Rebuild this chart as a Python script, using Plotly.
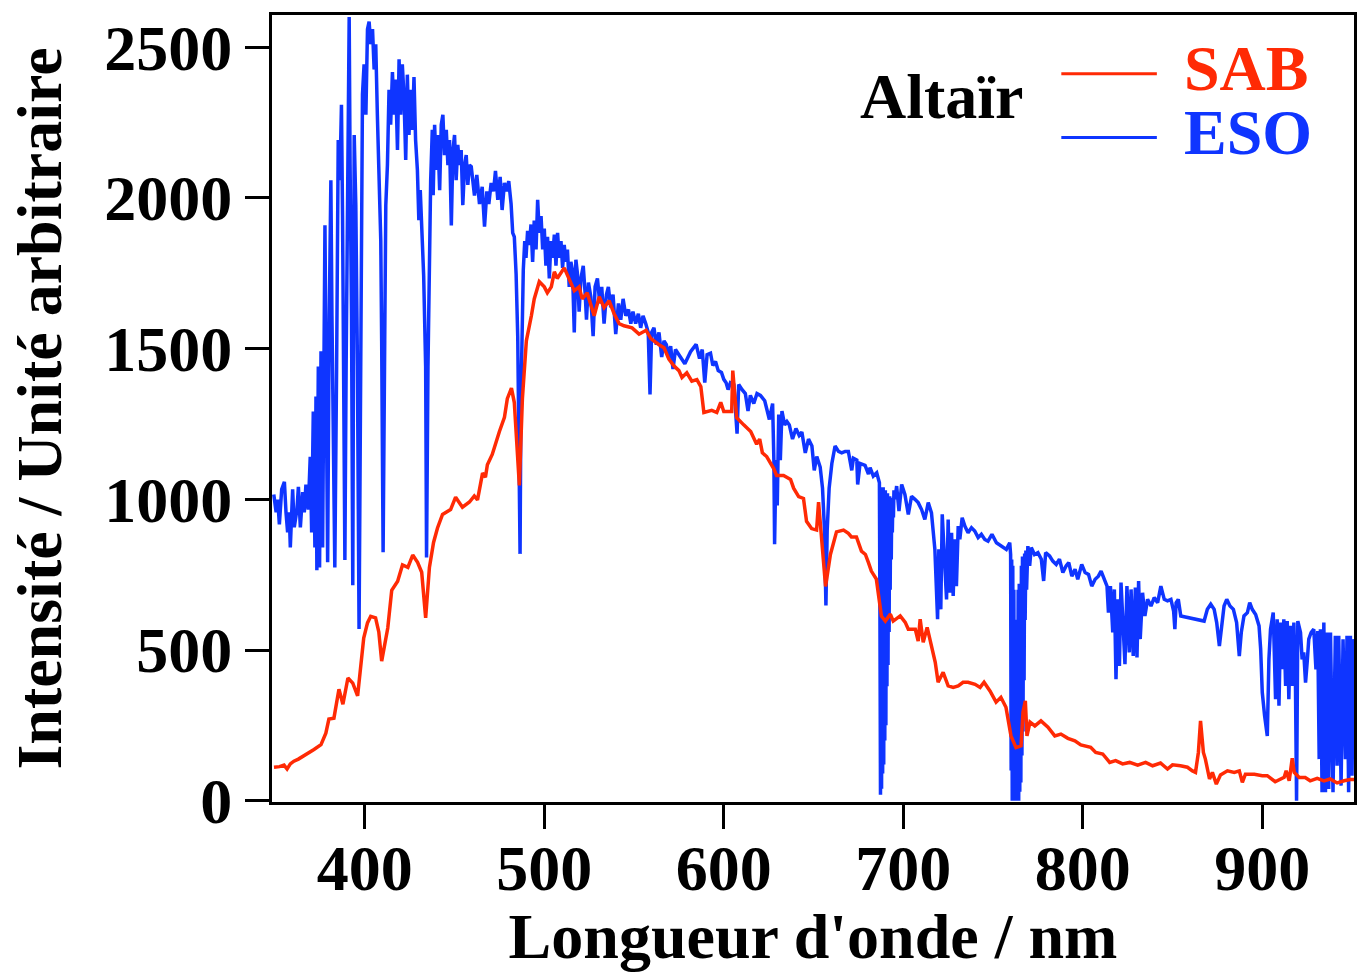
import plotly.graph_objects as go

# ---- Altaïr spectrum: SAB measurement (red) ----
sab_nm = [349.4, 352.5, 355.0, 356.7, 358.5, 360.5, 363.0, 366.0, 369.0, 371.7,
          375.6, 378.3, 380.0, 382.8, 385.6, 387.8, 390.6, 393.3, 396.0, 399.4,
          401.5, 403.3, 406.0, 407.8, 409.4, 411.0, 412.8, 415.0, 418.3, 421.0,
          424.0, 426.7, 429.4, 431.7, 433.9, 436.0, 438.3, 440.5, 443.3, 447.8,
          450.6, 454.4, 458.3, 461.0, 462.8, 465.6, 467.2, 468.3, 471.0, 475.0,
          477.8, 479.4, 481.7, 483.3, 484.7, 486.1, 487.8, 490.0, 492.8, 494.4,
          497.2, 500.0, 501.7, 503.9, 505.6, 507.2, 511.1, 513.9, 516.7, 519.4,
          521.1, 523.9, 527.8, 530.6, 533.3, 536.1, 538.9, 541.7, 544.4, 548.9,
          552.8, 556.7, 559.4, 563.9, 566.7, 569.4, 572.2, 575.0, 576.7, 579.4,
          582.2, 585.0, 587.2, 588.9, 593.3, 596.1, 598.3, 600.0, 604.4, 605.0,
          607.2, 611.1, 615.0, 618.3, 620.0, 621.5, 623.9, 627.8, 629.4, 633.3,
          637.2, 638.9, 641.7, 644.4, 646.1, 648.9, 651.7, 652.8, 654.4, 656.7,
          659.4, 662.8, 666.7, 669.4, 671.1, 673.9, 676.7, 678.9, 680.6, 682.2,
          685.0, 687.8, 690.0, 692.8, 694.4, 698.3, 701.1, 702.8, 706.7, 708.3,
          709.4, 711.1, 713.3, 715.6, 717.8, 719.4, 722.2, 725.0, 727.8, 730.6,
          733.3, 736.1, 740.0, 742.8, 745.0, 748.3, 751.7, 754.4, 757.2, 760.0,
          762.8, 765.6, 766.7, 768.0, 768.9, 770.6, 773.3, 776.7, 780.6, 784.4,
          787.8, 791.7, 795.6, 798.9, 804.4, 807.2, 811.1, 815.0, 818.3, 822.2,
          826.1, 830.6, 835.0, 838.9, 843.3, 847.2, 850.0, 854.4, 858.3, 861.1,
          862.8, 864.4, 865.6, 867.2, 868.3, 870.6, 872.2, 874.4, 876.7, 880.6,
          884.4, 887.2, 888.9, 890.6, 895.6, 900.0, 902.8, 904.4, 907.2, 912.2,
          913.3, 915.0, 916.7, 917.8, 920.6, 923.9, 926.7, 930.6, 934.4, 937.8,
          941.7, 945.6, 948.9, 951.7]
sab_val = [111, 113, 118, 105, 122, 131, 138, 148, 158, 170,
           186, 224, 271, 274, 370, 320, 407, 390, 348, 540,
           590, 612, 607, 560, 463, 520, 573, 698, 728, 782,
           774, 815, 791, 758, 607, 774, 857, 905, 950, 966,
           1007, 974, 991, 1011, 998, 1087, 1073, 1115, 1149, 1225,
           1272, 1334, 1369, 1321, 1200, 1046, 1334, 1526, 1609, 1665,
           1722, 1705, 1685, 1705, 1755, 1733, 1768, 1733, 1692, 1705,
           1665, 1685, 1609, 1672, 1636, 1659, 1616, 1583, 1576, 1569,
           1548, 1561, 1533, 1513, 1503, 1465, 1443, 1427, 1404, 1420,
           1392, 1397, 1374, 1288, 1295, 1288, 1322, 1291, 1291, 1427,
           1271, 1247, 1225, 1183, 1200, 1154, 1142, 1102, 1079, 1079,
           1066, 1037, 1009, 1003, 927, 903, 898, 991, 864, 711,
           817, 892, 898, 887, 875, 875, 828, 817, 790, 762,
           735, 613, 596, 619, 596, 613, 592, 569, 569, 530,
           602, 526, 575, 514, 459, 393, 426, 381, 376, 381,
           393, 393, 386, 376, 393, 364, 327, 343, 310, 215,
           176, 182, 294, 331, 215, 261, 248, 265, 244, 215,
           221, 207, 199, 185, 177, 160, 155, 127, 133, 122,
           127, 118, 127, 116, 125, 105, 119, 116, 111, 99,
           94, 160, 265, 160, 138, 72, 94, 55, 85, 99,
           94, 99, 61, 88, 88, 83, 83, 76, 63, 78,
           99, 66, 141, 94, 77, 77, 66, 74, 66, 72,
           59, 66, 70, 70]

# ---- Altaïr spectrum: ESO reference (blue) ----
eso_nm = [349.3, 350.6, 351.5, 352.4, 353.7, 355.2, 356.1, 357.0, 357.9, 358.5,
          359.8, 360.7, 362.2, 363.0, 364.1, 365.4, 366.3, 367.2, 368.5, 369.6,
          370.4, 371.3, 372.2, 372.8, 373.3, 374.1, 374.8, 375.6, 376.5, 377.1,
          377.8, 378.3, 378.9, 379.3, 380.2, 381.1, 381.7, 382.6, 383.3, 384.3,
          385.2, 386.1, 387.0, 387.6, 388.1, 388.9, 389.6, 390.4, 391.3, 391.8,
          392.6, 393.3, 394.1, 395.0, 395.9, 396.8, 397.8, 398.7, 399.6, 400.6,
          401.5, 402.4, 403.3, 404.3, 405.2, 406.1, 407.0, 407.9, 408.9, 409.4,
          410.2, 411.1, 411.7, 412.6, 413.5, 414.4, 415.4, 416.3, 417.2, 418.2,
          419.1, 420.0, 420.9, 421.8, 422.8, 423.7, 424.6, 425.6, 426.5, 427.4,
          428.3, 429.3, 430.1, 430.9, 431.8, 432.8, 433.9, 434.4, 435.2, 435.9,
          436.7, 437.6, 438.1, 438.9, 439.8, 440.7, 441.7, 442.6, 443.5, 444.4,
          445.4, 446.3, 447.2, 448.2, 449.1, 450.0, 450.9, 451.8, 452.8, 453.7,
          454.6, 455.6, 456.5, 457.4, 458.3, 459.3, 461.1, 462.4, 463.9, 465.4,
          466.7, 468.0, 469.1, 470.4, 471.7, 472.8, 474.1, 475.4, 476.5, 477.8,
          479.0, 480.2, 481.5, 482.4, 483.3, 484.3, 485.2, 485.7, 486.5, 487.0,
          487.6, 488.3, 489.1, 489.8, 490.7, 491.7, 492.6, 493.5, 494.4, 495.4,
          496.3, 497.2, 498.2, 499.1, 500.0, 500.9, 501.8, 502.8, 503.7, 504.6,
          505.6, 506.5, 507.4, 508.3, 509.3, 510.2, 511.1, 512.0, 512.9, 513.9,
          514.8, 515.7, 516.7, 517.6, 518.5, 519.4, 520.4, 521.7, 522.8, 523.5,
          524.6, 525.9, 527.2, 528.3, 529.6, 530.9, 532.0, 533.3, 534.6, 535.7,
          537.0, 538.3, 539.8, 541.3, 542.6, 543.9, 545.4, 546.9, 548.2, 549.4,
          550.9, 552.4, 553.7, 555.0, 556.5, 557.9, 558.9, 559.8, 561.1, 562.4,
          563.9, 565.4, 566.7, 568.0, 569.1, 570.4, 571.7, 573.1, 575.0, 576.9,
          578.3, 581.5, 584.6, 586.5, 588.0, 589.4, 590.7, 592.6, 593.9, 595.4,
          596.9, 598.7, 600.0, 601.3, 602.4, 603.7, 605.6, 607.4, 608.3, 610.2,
          612.0, 613.5, 614.8, 616.7, 618.5, 620.4, 622.8, 625.4, 627.2, 627.9,
          628.3, 629.1, 629.8, 630.6, 631.5, 632.4, 633.9, 635.2, 636.5, 638.3,
          640.2, 642.0, 643.5, 645.4, 647.2, 649.1, 650.4, 651.8, 653.7, 655.0,
          656.1, 656.9, 657.6, 658.7, 660.2, 662.0, 663.9, 665.7, 667.6, 669.4,
          671.3, 672.2, 674.1, 674.6, 675.9, 678.7, 680.6, 681.5, 683.3, 685.2,
          686.7, 687.0, 687.3, 687.6, 687.9, 688.2, 688.5, 688.8, 689.1, 689.4,
          689.7, 690.0, 690.3, 690.6, 690.9, 691.2, 691.5, 691.8, 692.1, 692.4,
          692.7, 693.0, 693.3, 693.6, 693.9, 694.2, 694.5, 694.8, 695.4, 696.3,
          697.6, 699.1, 700.9, 702.8, 704.6, 706.5, 708.3, 710.2, 712.0, 713.9,
          715.7, 717.6, 718.5, 719.1, 719.8, 720.9, 721.7, 723.1, 724.1, 725.0,
          725.9, 726.9, 727.8, 728.7, 729.6, 730.6, 731.5, 732.8, 734.3, 736.1,
          738.0, 739.8, 741.7, 743.5, 745.4, 747.2, 749.4, 751.9, 754.6, 757.4,
          759.3, 759.8, 760.1, 760.4, 760.7, 761.0, 761.3, 761.6, 761.9, 762.2,
          762.5, 762.8, 763.1, 763.4, 763.7, 764.0, 764.3, 764.6, 764.9, 765.2,
          765.5, 765.8, 766.1, 766.4, 766.7, 767.0, 767.3, 767.6, 767.9, 768.3,
          768.7, 769.4, 770.4, 771.3, 773.1, 775.0, 776.9, 778.2, 779.3, 781.5,
          783.3, 785.2, 787.0, 788.9, 790.7, 792.2, 793.9, 795.7, 797.2, 799.4,
          801.3, 803.2, 805.0, 806.9, 808.7, 810.2, 812.0, 813.5, 814.3, 815.4,
          816.7, 817.6, 818.5, 819.4, 820.4, 821.3, 822.2, 823.5, 824.6, 825.9,
          826.9, 828.1, 829.3, 830.2, 831.1, 832.0, 833.3, 834.6, 836.1, 838.0,
          839.8, 841.7, 843.5, 845.4, 847.2, 849.1, 850.6, 851.3, 852.0, 853.2,
          854.6, 867.6, 869.4, 871.3, 873.2, 874.6, 876.1, 877.2, 878.7, 880.2,
          882.0, 883.9, 885.7, 887.2, 888.3, 889.8, 891.7, 893.0, 894.4, 896.3,
          898.2, 899.1, 900.0, 901.3, 902.4, 902.8, 903.7, 904.6, 906.1, 907.4,
          908.3, 909.3, 910.2, 911.1, 912.0, 913.0, 913.9, 914.8, 915.7, 916.7,
          917.6, 918.5, 919.1, 919.8, 921.3, 922.2, 923.1, 924.1, 925.0, 925.9,
          927.2, 928.7, 929.9, 930.9, 931.7, 932.4, 933.3, 934.3, 935.2, 936.1,
          937.0, 938.0, 939.4, 940.7, 941.7, 942.6, 943.9, 945.0, 946.3, 947.2,
          948.1, 949.1, 950.0, 950.9, 951.8]
eso_val = [1016, 957, 999, 917, 1033, 1058, 957, 890, 957, 840,
           1033, 907, 966, 1041, 907, 1024, 957, 1049, 966, 1141,
           890, 1291, 840, 1341, 765, 1441, 774, 1491, 840, 1508,
           1909, 1525, 1141, 791, 1609, 2059, 1609, 1208, 774, 1441,
           2192, 2059, 2309, 1942, 1441, 799, 1441, 2026, 2600, 2109,
           1609, 715, 2209, 1976, 1441, 570, 1441, 2343, 2443, 2276,
           2560, 2585, 2510, 2560, 2426, 2510, 2276, 2109, 1859, 1525,
           824, 1525, 1976, 2109, 2359, 2243, 2418, 2276, 2393, 2159,
           2460, 2276, 2443, 2343, 2126, 2409, 2209, 2359, 2226, 2401,
           2192, 2093, 1926, 2026, 1909, 1742, 1441, 807, 1441, 1859,
           2059, 2226, 2009, 2243, 2093, 2209, 2026, 2243, 2276, 2142,
           2226, 2109, 2192, 1909, 2159, 2209, 2059, 2176, 2109, 2159,
           1976, 2109, 2142, 2043, 2109, 2104, 2008, 2076, 1980, 2037,
           1905, 2022, 1980, 2050, 2022, 2090, 1994, 2070, 1960, 2050,
           2022, 2056, 1980, 1884, 1871, 1747, 1541, 1266, 819, 1334,
           1569, 1761, 1857, 1801, 1891, 1844, 1912, 1788, 1925, 1829,
           1994, 1884, 1940, 1829, 1898, 1775, 1871, 1733, 1857, 1801,
           1878, 1775, 1884, 1801, 1857, 1768, 1844, 1788, 1829, 1705,
           1788, 1761, 1554, 1795, 1747, 1623, 1733, 1775, 1679, 1596,
           1719, 1672, 1541, 1705, 1733, 1650, 1705, 1583, 1679, 1705,
           1637, 1679, 1548, 1650, 1596, 1665, 1609, 1630, 1583, 1623,
           1583, 1616, 1569, 1609, 1583, 1554, 1348, 1554, 1569, 1513,
           1554, 1472, 1526, 1513, 1472, 1508, 1432, 1497, 1480, 1462,
           1450, 1490, 1514, 1467, 1497, 1387, 1480, 1485, 1444, 1457,
           1427, 1421, 1398, 1387, 1364, 1387, 1381, 1218, 1381, 1364,
           1351, 1293, 1345, 1318, 1351, 1345, 1327, 1265, 1318, 1130,
           851, 1130, 980, 1281, 1130, 1293, 1247, 1258, 1247, 1200,
           1235, 1212, 1223, 1154, 1200, 1177, 1096, 1142, 1107, 1037,
           898, 648, 898, 1037, 1119, 1177, 1159, 1154, 1159, 1159,
           1096, 1136, 1130, 1049, 1119, 1113, 1084, 1105, 1077, 1088,
           1055, 600, 20, 1040, 40, 1030, 90, 1040, 120, 1020,
           200, 1030, 250, 1010, 380, 1020, 450, 1000, 560, 1010,
           700, 990, 800, 1000, 890, 1005, 940, 1030, 1000, 1044,
           961, 1049, 1016, 950, 1010, 1000, 989, 966, 933, 989,
           955, 834, 646, 602, 834, 635, 950, 812, 668, 933,
           690, 889, 679, 867, 712, 911, 867, 939, 911, 889,
           906, 895, 873, 884, 867, 861, 884, 856, 845, 834,
           856, 817, 100, 800, 0, 780, 0, 700, 0, 600,
           0, 560, 0, 600, 0, 700, 0, 720, 30, 700,
           60, 780, 150, 810, 230, 800, 400, 820, 600, 830,
           700, 845, 779, 840, 817, 823, 801, 729, 823, 812,
           795, 784, 801, 757, 779, 790, 745, 768, 735, 784,
           757, 751, 712, 735, 745, 762, 735, 712, 624, 712,
           558, 701, 403, 668, 447, 724, 613, 453, 712, 492,
           701, 480, 707, 475, 729, 536, 690, 613, 668, 646,
           674, 657, 712, 668, 663, 668, 629, 569, 657, 668,
           613, 596, 635, 652, 635, 591, 513, 580, 646, 668,
           646, 635, 591, 480, 558, 613, 624, 657, 635, 618,
           580, 503, 359, 282, 227, 215, 469, 569, 624, 337,
           602, 315, 591, 436, 602, 381, 596, 337, 580, 381,
           591, 381, 0, 596, 558, 469, 492, 392, 458, 536,
           558, 569, 436, 563, 138, 569, 28, 591, 28, 558,
           39, 558, 28, 547, 116, 547, 50, 536, 138, 547,
           28, 547, 83, 536, 360]

RED = "#FF2A05"
BLUE = "#0F35FF"
FONT = "Liberation Serif"

fig = go.Figure()
fig.add_trace(go.Scatter(x=eso_nm, y=eso_val, mode="lines", name="ESO",
                         line=dict(color=BLUE, width=3.5)))
fig.add_trace(go.Scatter(x=sab_nm, y=sab_val, mode="lines", name="SAB",
                         line=dict(color=RED, width=3.5)))

axis_font = dict(family=FONT, size=64, color="black", weight="bold")

fig.update_xaxes(range=[348.3, 951.1], tickvals=[400, 500, 600, 700, 800, 900],
                 ticks="outside", ticklen=24, tickwidth=3, tickcolor="black",
                 ticklabelstandoff=-16,
                 showline=True, linewidth=3, linecolor="black", mirror=True,
                 showgrid=False, zeroline=False, tickfont=axis_font,
                 title=dict(text="Longueur d'onde / nm", font=axis_font, standoff=20))
fig.update_yaxes(range=[-4.3, 2607], tickvals=[0, 500, 1000, 1500, 2000, 2500],
                 ticks="outside", ticklen=24, tickwidth=3, tickcolor="black",
                 showline=True, linewidth=3, linecolor="black", mirror=True,
                 showgrid=False, zeroline=False, tickfont=axis_font,
                 title=dict(text="Intensité / Unité arbitraire", font=axis_font, standoff=22))

# Hand-drawn legend: short coloured line samples with coloured labels
legend_rows = [("SAB", RED, 0.9254, 0.9317), ("ESO", BLUE, 0.8445, 0.8508)]
for label, color, yline, ytext in legend_rows:
    fig.add_shape(type="line", xref="paper", yref="paper",
                  x0=0.7295, x1=0.8178, y0=yline, y1=yline,
                  line=dict(color=color, width=3))
    fig.add_annotation(text=label, xref="paper", yref="paper", x=0.8409, y=ytext,
                       xanchor="left", yanchor="middle", showarrow=False,
                       font=dict(family=FONT, size=64, color=color, weight="bold"))

fig.add_annotation(text="Altaïr", xref="paper", yref="paper", x=0.5419, y=0.8960,
                   xanchor="left", yanchor="middle", showarrow=False,
                   font=dict(family=FONT, size=64, color="black", weight="bold"))

fig.update_layout(width=1360, height=972, showlegend=False,
                  margin=dict(l=272, r=3, t=15, b=169),
                  plot_bgcolor="white", paper_bgcolor="white")

fig.write_html("out.html")
